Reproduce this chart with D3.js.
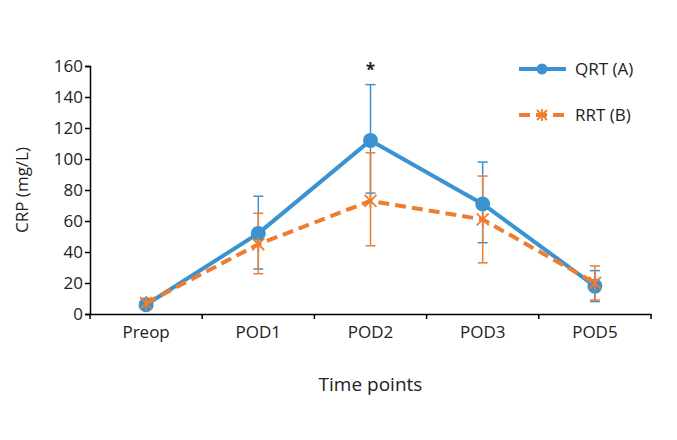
<!DOCTYPE html>
<html>
<head>
<meta charset="utf-8">
<script src="https://cdn.jsdelivr.net/npm/d3@7"></script>
<style>
  body { margin: 0; background: #fff; }
  text { font-family: "Open Sans", sans-serif; fill: #222; }
</style>
</head>
<body>
<svg id="chart"></svg>
<script>
const categories = ["Preop", "POD1", "POD2", "POD3", "POD5"];
const qrtMean = [6, 52, 112, 71, 18];
const qrtLow = [3, 29, 78, 46, 8];
const qrtHigh = [9, 76, 148, 98, 28];
const rrtMean = [7, 45, 73, 61, 20];
const rrtLow = [4, 26, 44, 33, 9];
const rrtHigh = [10, 65, 104, 89, 31];
const yTicks = [0, 20, 40, 60, 80, 100, 120, 140, 160];

const width = 677, height = 440;
const margin = { left: 90, right: 26, top: 66, bottom: 126 };

const svg = d3.select("#chart").attr("width", width).attr("height", height);

const x = d3.scaleBand().domain(categories).range([margin.left, width - margin.right]);
const y = d3.scaleLinear().domain([0, 160]).range([height - margin.bottom, margin.top]);
const cx = d => x(d) + x.bandwidth() / 2;

const blue = "#3a93d0", orange = "#ed7d31";

// axes
const yAxis = svg.append("g")
  .attr("transform", `translate(${margin.left},0)`)
  .call(d3.axisLeft(y).tickValues(yTicks).tickSize(5).tickPadding(2));
yAxis.select(".domain").attr("stroke", "#000").attr("stroke-width", 1.5);
yAxis.selectAll(".tick line").attr("stroke", "#000").attr("stroke-width", 1.5);
yAxis.selectAll("text").attr("font-size", 17).attr("fill", "#222").attr("font-family", "Open Sans");

const xAxis = svg.append("g")
  .attr("transform", `translate(0,${y(0)})`)
  .call(d3.axisBottom(x).tickSize(0).tickPadding(12));
xAxis.select(".domain").attr("stroke", "#000").attr("stroke-width", 1.5);
xAxis.selectAll("text").attr("font-size", 17).attr("fill", "#222").attr("font-family", "Open Sans");
// ticks between categories
const bounds = categories.map(c => x(c)).concat([x(categories[categories.length - 1]) + x.bandwidth()]);
svg.append("g").selectAll("line").data(bounds).join("line")
  .attr("x1", d => d).attr("x2", d => d)
  .attr("y1", y(0)).attr("y2", y(0) + 5)
  .attr("stroke", "#000").attr("stroke-width", 1.5);

// axis titles
svg.append("text")
  .attr("transform", `translate(28,${(y(0) + y(160)) / 2}) rotate(-90)`)
  .attr("text-anchor", "middle").attr("font-size", 17)
  .text("CRP (mg/L)");
svg.append("text")
  .attr("x", (margin.left + width - margin.right) / 2).attr("y", 391)
  .attr("text-anchor", "middle").attr("font-size", 19)
  .text("Time points");

// error bars
function errorBars(low, high, color, capW) {
  const g = svg.append("g").attr("stroke", color).attr("stroke-width", 1.5);
  categories.forEach((c, i) => {
    g.append("line").attr("x1", cx(c)).attr("x2", cx(c)).attr("y1", y(low[i])).attr("y2", y(high[i]));
    [low[i], high[i]].forEach(v => {
      g.append("line").attr("x1", cx(c) - capW).attr("x2", cx(c) + capW).attr("y1", y(v)).attr("y2", y(v));
    });
  });
}
errorBars(qrtLow, qrtHigh, blue, 5);
errorBars(rrtLow, rrtHigh, orange, 5);

const line = d3.line().x((d, i) => cx(categories[i])).y(d => y(d));

// QRT line
svg.append("path").datum(qrtMean).attr("d", line)
  .attr("fill", "none").attr("stroke", blue).attr("stroke-width", 4).attr("stroke-linejoin", "round");
svg.append("g").selectAll("circle").data(qrtMean).join("circle")
  .attr("cx", (d, i) => cx(categories[i])).attr("cy", d => y(d)).attr("r", 7.5).attr("fill", blue);

// RRT line
svg.append("path").datum(rrtMean).attr("d", line)
  .attr("fill", "none").attr("stroke", orange).attr("stroke-width", 4).attr("stroke-dasharray", "11,6");
function star(g, px, py, s) {
  g.append("line").attr("x1", px - s).attr("x2", px + s).attr("y1", py - s).attr("y2", py + s);
  g.append("line").attr("x1", px - s).attr("x2", px + s).attr("y1", py + s).attr("y2", py - s);
  g.append("line").attr("x1", px).attr("x2", px).attr("y1", py - s * 1.2).attr("y2", py + s * 1.2);
}
const marks = svg.append("g").attr("stroke", orange).attr("stroke-width", 1.8);
rrtMean.forEach((d, i) => star(marks, cx(categories[i]), y(d), 6));

// significance
svg.append("text").attr("x", cx("POD2")).attr("y", 76).attr("text-anchor", "middle")
  .attr("font-size", 17).attr("font-weight", "bold").text("*");

// legend
const lg = svg.append("g");
lg.append("line").attr("x1", 519).attr("x2", 566).attr("y1", 69).attr("y2", 69)
  .attr("stroke", blue).attr("stroke-width", 4);
lg.append("circle").attr("cx", 542).attr("cy", 69).attr("r", 5.5).attr("fill", blue);
lg.append("text").attr("x", 575).attr("y", 75).attr("font-size", 17).text("QRT (A)");
lg.append("line").attr("x1", 519).attr("x2", 566).attr("y1", 115).attr("y2", 115)
  .attr("stroke", orange).attr("stroke-width", 4).attr("stroke-dasharray", "11,6");
const lgm = lg.append("g").attr("stroke", orange).attr("stroke-width", 1.8);
star(lgm, 542, 115, 5);
lg.append("text").attr("x", 575).attr("y", 121).attr("font-size", 17).text("RRT (B)");
</script>
</body>
</html>
